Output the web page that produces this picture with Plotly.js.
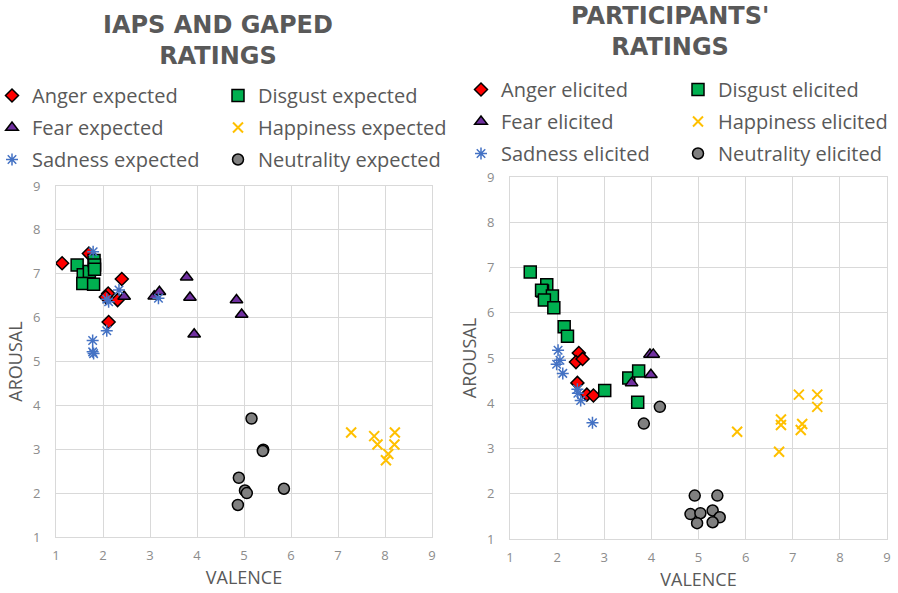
<!DOCTYPE html>
<html><head><meta charset="utf-8">
<script src="https://cdn.plot.ly/plotly-3.0.1.min.js"></script>
<style>html,body{margin:0;padding:0;background:#fff}#chart{width:898px;height:593px}</style>
</head><body><div id="chart"></div>
<script>
// ---- Data: IAPS and GAPED ratings (expected) ----
const angerExpV   = [1.13, 1.70, 2.40, 2.11, 2.06, 2.31, 2.12];
const angerExpA   = [7.24, 7.46, 6.88, 6.55, 6.47, 6.40, 5.90];
const disgustExpV = [1.45, 1.58, 1.71, 1.81, 1.82, 1.82, 1.57, 1.80];
const disgustExpA = [7.20, 6.98, 7.05, 7.30, 7.20, 7.10, 6.78, 6.76];
const fearExpV    = [2.45, 3.09, 3.20, 3.78, 3.85, 3.94, 4.84, 4.95];
const fearExpA    = [6.48, 6.49, 6.59, 6.92, 6.46, 5.62, 6.40, 6.07];
const happyExpV   = [7.28, 7.77, 7.84, 8.21, 8.20, 8.07, 8.02];
const happyExpA   = [3.38, 3.30, 3.11, 3.38, 3.11, 2.89, 2.75];
const sadExpV     = [1.79, 2.34, 2.08, 2.12, 3.18, 2.08, 1.78, 1.78, 1.80];
const sadExpA     = [7.50, 6.63, 6.42, 6.36, 6.44, 5.70, 5.48, 5.22, 5.18];
const neutExpV    = [5.16, 5.41, 5.40, 4.89, 5.02, 5.06, 4.87, 5.85];
const neutExpA    = [3.70, 2.99, 2.96, 2.35, 2.06, 2.00, 1.73, 2.10];

// ---- Data: Participants' ratings (elicited) ----
const angerElV   = [2.46, 2.40, 2.54, 2.43, 2.63, 2.77];
const angerElA   = [5.11, 4.91, 4.98, 4.45, 4.19, 4.17];
const disgustElV = [1.43, 1.78, 1.69, 1.67, 1.90, 1.73, 1.93, 2.15, 2.22, 3.01, 3.52, 3.73, 3.71];
const disgustElA = [6.90, 6.62, 6.48, 6.50, 6.37, 6.28, 6.11, 5.69, 5.48, 4.28, 4.56, 4.71, 4.02];
const fearElV    = [3.97, 4.04, 3.99, 3.58];
const fearElA    = [5.08, 5.08, 4.63, 4.45];
const happyElV   = [5.82, 6.75, 6.75, 6.71, 7.13, 7.52, 7.52, 7.20, 7.17];
const happyElA   = [3.37, 3.64, 3.52, 2.93, 4.19, 4.19, 3.92, 3.54, 3.41];
const sadElV     = [2.02, 2.06, 1.99, 2.12, 2.43, 2.44, 2.50, 2.75];
const sadElA     = [5.17, 4.95, 4.86, 4.66, 4.31, 4.22, 4.06, 3.57];
const neutElV    = [4.18, 3.84, 4.92, 5.40, 4.83, 5.04, 5.30, 5.45, 4.97, 5.30];
const neutElA    = [3.92, 3.55, 1.96, 1.96, 1.55, 1.57, 1.63, 1.48, 1.35, 1.37];

const tickVals = [1, 2, 3, 4, 5, 6, 7, 8, 9];
const titleLeft = 'IAPS AND GAPED<br>RATINGS';
const titleRight = "PARTICIPANTS'<br>RATINGS";

// ---- Styles ----
const styles = {
  anger:   {symbol: 'diamond', color: '#FF0000', size: 10, line: {color: '#000', width: 1.5}},
  disgust: {symbol: 'square', color: '#00B050', size: 12, line: {color: '#000', width: 1.5}},
  fear:    {symbol: 'triangle-up', color: '#7030A0', size: 11, line: {color: '#000', width: 1.5}},
  happy:   {symbol: 'x-thin-open', color: '#FFC000', size: 10, line: {color: '#FFC000', width: 2}},
  sad:     {symbol: 'asterisk-open', color: '#4472C4', size: 10, line: {color: '#4472C4', width: 1.5}},
  neut:    {symbol: 'circle', color: '#808080', size: 11, line: {color: '#000', width: 1.5}}
};

function tr(name, x, y, st, xa, ya, leg, grp) {
  return {type: 'scatter', mode: 'markers', name: name, x: x, y: y,
    xaxis: xa, yaxis: ya, legend: leg, legendgroup: grp,
    marker: st, hoverinfo: 'x+y+name'};
}

const data = [
  tr('Anger expected', angerExpV, angerExpA, styles.anger, 'x', 'y', 'legend', 'a1'),
  tr('Disgust expected', disgustExpV, disgustExpA, styles.disgust, 'x', 'y', 'legend2', 'a2'),
  tr('Fear expected', fearExpV, fearExpA, styles.fear, 'x', 'y', 'legend', 'a3'),
  tr('Happiness expected', happyExpV, happyExpA, styles.happy, 'x', 'y', 'legend2', 'a4'),
  tr('Sadness expected', sadExpV, sadExpA, styles.sad, 'x', 'y', 'legend', 'a5'),
  tr('Neutrality expected', neutExpV, neutExpA, styles.neut, 'x', 'y', 'legend2', 'a6'),
  tr('Anger elicited', angerElV, angerElA, styles.anger, 'x2', 'y2', 'legend3', 'b1'),
  tr('Disgust elicited', disgustElV, disgustElA, styles.disgust, 'x2', 'y2', 'legend4', 'b2'),
  tr('Fear elicited', fearElV, fearElA, styles.fear, 'x2', 'y2', 'legend3', 'b3'),
  tr('Happiness elicited', happyElV, happyElA, styles.happy, 'x2', 'y2', 'legend4', 'b4'),
  tr('Sadness elicited', sadElV, sadElA, styles.sad, 'x2', 'y2', 'legend3', 'b5'),
  tr('Neutrality elicited', neutElV, neutElA, styles.neut, 'x2', 'y2', 'legend4', 'b6')
];

const W = 898, H = 593;
const px = v => v / W;
const py = v => 1 - v / H;

function axis(dom, anchor, title, standoff, labelStandoff) {
  return {
    domain: dom, anchor: anchor, range: [1, 9], tickvals: tickVals, ticktext: tickVals.map(String),
    showgrid: true, gridcolor: '#D9D9D9', gridwidth: 1, zeroline: false,
    showline: true, mirror: true, linecolor: '#D9D9D9', linewidth: 1, ticks: '',
    ticklabelstandoff: labelStandoff,
    tickfont: {family: 'Open Sans, sans-serif', size: 13, color: '#8C8C8C'},
    title: {text: title, font: {family: 'Open Sans, sans-serif', size: 18, color: '#595959'}, standoff: standoff},
    automargin: false, fixedrange: true
  };
}

function legend(xpx, ypx) {
  return {x: px(xpx), y: py(ypx), xanchor: 'left', yanchor: 'top', orientation: 'v',
    bgcolor: 'rgba(0,0,0,0)', borderwidth: 0, tracegroupgap: 3, traceorder: 'grouped',
    font: {family: 'Open Sans, sans-serif', size: 20, color: '#595959'}};
}

const layout = {
  width: W, height: H, margin: {l: 0, r: 0, t: 0, b: 0, autoexpand: false},
  paper_bgcolor: '#fff', plot_bgcolor: '#fff', showlegend: true,
  xaxis: axis([px(56), px(432)], 'y', 'VALENCE', 8, 6),
  yaxis: axis([1 - 537 / H, 1 - 186 / H], 'x', 'AROUSAL', 5, 12),
  xaxis2: axis([px(510), px(887)], 'y2', 'VALENCE', 8, 6),
  yaxis2: axis([1 - 539 / H, 1 - 177 / H], 'x2', 'AROUSAL', 5, 12),
  legend: legend(-8, 76),
  legend2: legend(218, 76),
  legend3: legend(461, 70),
  legend4: legend(678, 70),
  annotations: [
    {text: '<b>' + titleLeft + '</b>', xref: 'paper', yref: 'paper', x: px(218), y: py(40.5),
     xanchor: 'center', yanchor: 'middle', showarrow: false,
     font: {family: 'DejaVu Sans, sans-serif', size: 24, color: '#595959'}},
    {text: '<b>' + titleRight + '</b>', xref: 'paper', yref: 'paper', x: px(670), y: py(31.5),
     xanchor: 'center', yanchor: 'middle', showarrow: false,
     font: {family: 'DejaVu Sans, sans-serif', size: 24, color: '#595959'}}
  ]
};

Plotly.newPlot('chart', data, layout, {displayModeBar: false, staticPlot: true});
</script>
</body></html>
